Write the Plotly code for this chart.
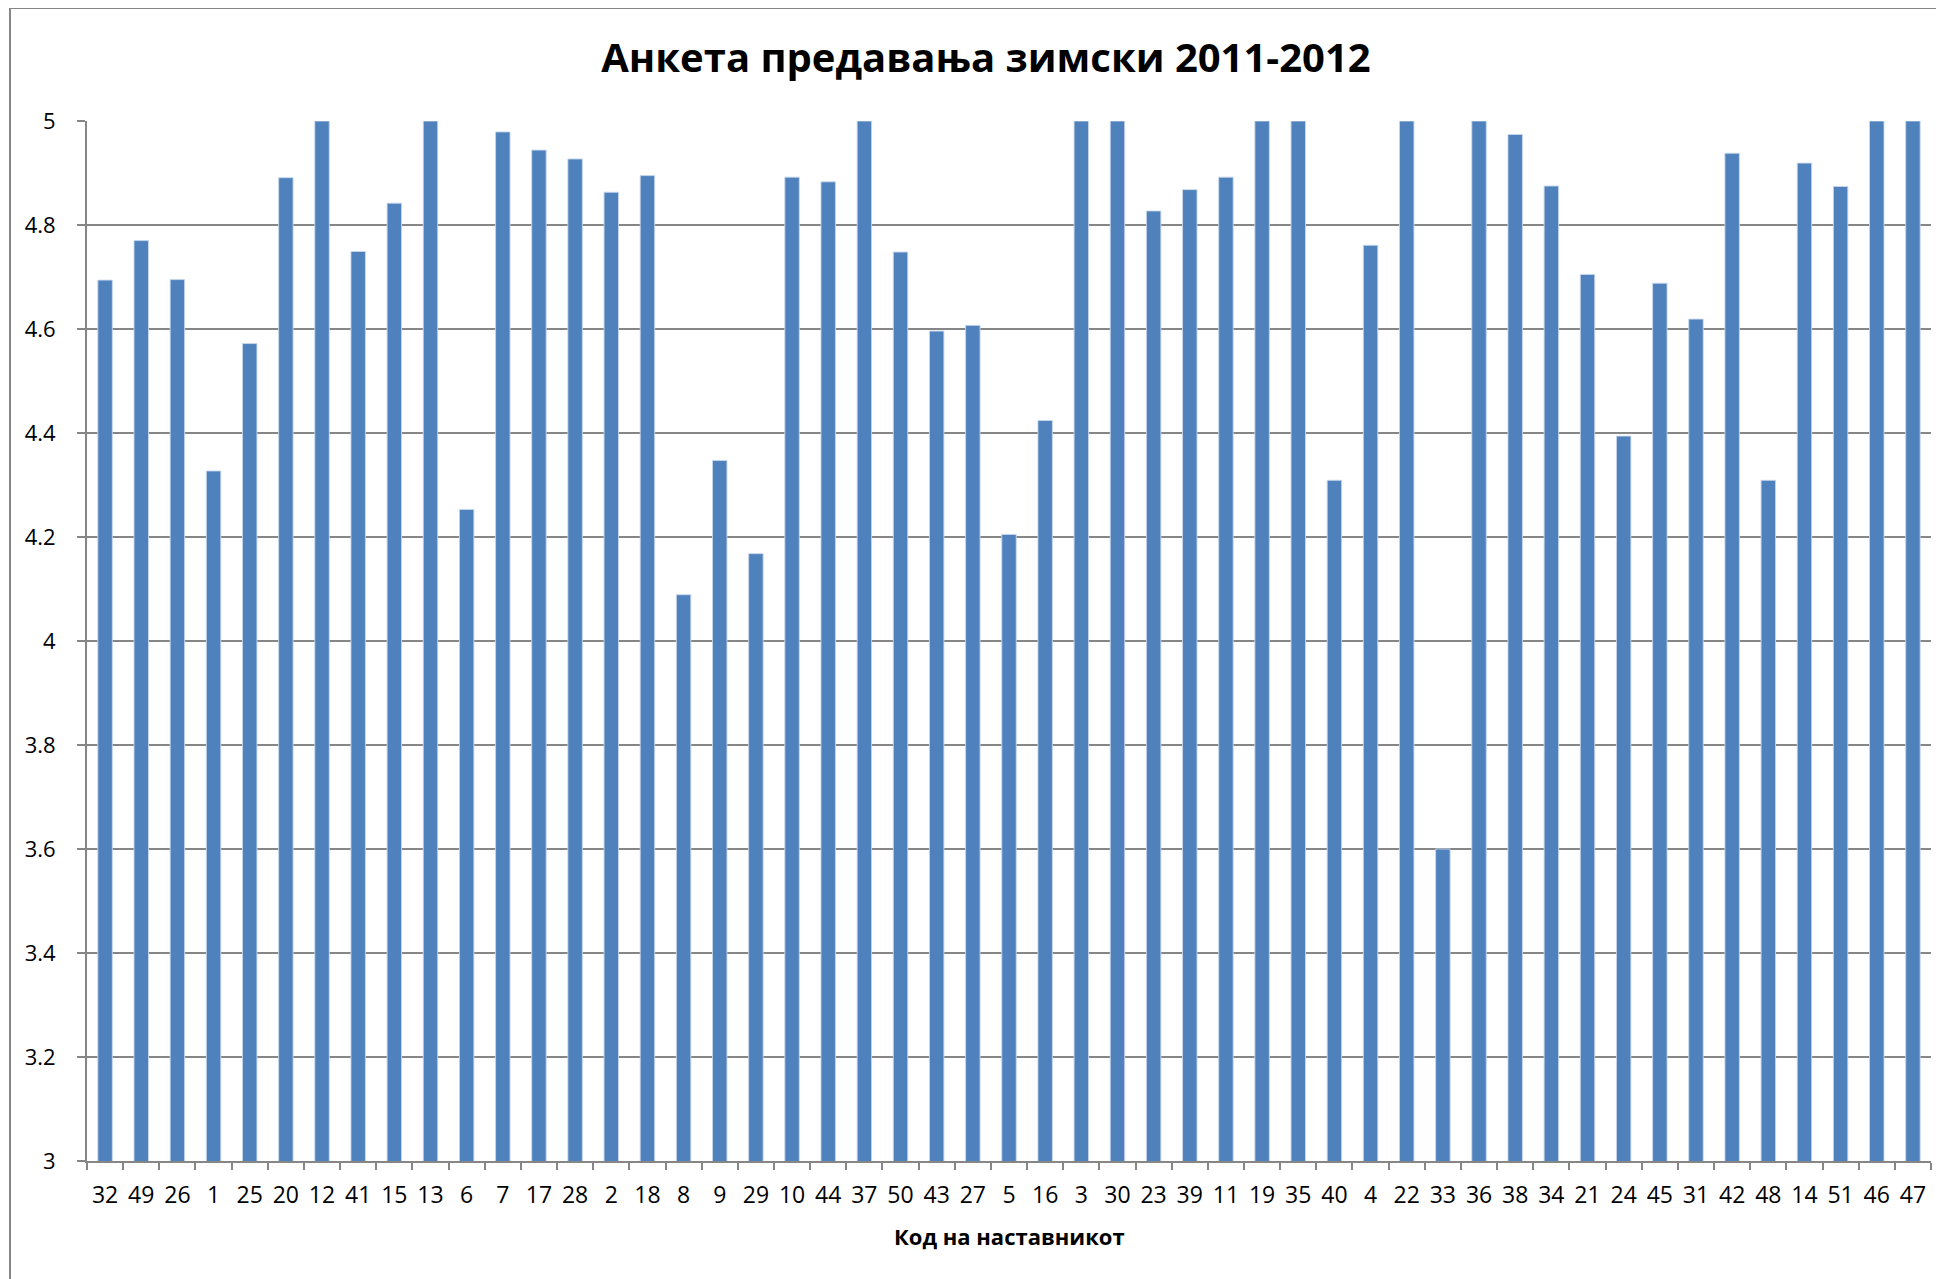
import plotly.graph_objects as go

teacher_codes = ["32", "49", "26", "1", "25", "20", "12", "41", "15", "13",
                 "6", "7", "17", "28", "2", "18", "8", "9", "29", "10",
                 "44", "37", "50", "43", "27", "5", "16", "3", "30", "23",
                 "39", "11", "19", "35", "40", "4", "22", "33", "36", "38",
                 "34", "21", "24", "45", "31", "42", "48", "14", "51", "46", "47"]

scores = [4.694, 4.770, 4.695, 4.327, 4.572, 4.891, 5.0, 4.749, 4.842, 5.0,
          4.253, 4.979, 4.944, 4.927, 4.863, 4.895, 4.089, 4.347, 4.168, 4.892,
          4.883, 5.0, 4.748, 4.596, 4.607, 4.205, 4.424, 5.0, 5.0, 4.827,
          4.868, 4.892, 5.0, 5.0, 4.309, 4.761, 5.0, 3.600, 5.0, 4.974,
          4.875, 4.705, 4.394, 4.688, 4.619, 4.938, 4.309, 4.919, 4.874, 5.0, 5.0]

y_ticks = [3, 3.2, 3.4, 3.6, 3.8, 4, 4.2, 4.4, 4.6, 4.8, 5]
y_tick_labels = ["3", "3.2", "3.4", "3.6", "3.8", "4", "4.2", "4.4", "4.6", "4.8", "5"]

title_text = "Анкета предавања зимски 2011-2012"
x_title_text = "Код на наставникот"

GRID = "#868686"
FONT = "Open Sans"

fig = go.Figure(
    go.Bar(
        x=teacher_codes,
        y=scores,
        marker=dict(color="#4F81BD", line=dict(color="rgba(200,215,235,0.9)", width=1)),
        hoverinfo="x+y",
    )
)

# page is offset by the default 8px body margin
W, H = 1936, 1271
ml, mr, mt, mb = 79, 13, 113, 118
pw = W - ml - mr
ph = H - mt - mb

fig.update_layout(
    width=W,
    height=H,
    margin=dict(l=ml, r=mr, t=mt, b=mb, pad=0),
    paper_bgcolor="white",
    plot_bgcolor="white",
    bargap=0.6,
    showlegend=False,
    font=dict(family=FONT, color="#000000"),
    title=dict(
        text="<b>" + title_text + "</b>",
        font=dict(family=FONT, size=40, color="#000000"),
        x=978 / W,
        xanchor="center",
        xref="container",
        y=1 - 50 / H,
        yanchor="middle",
        yref="container",
    ),
    xaxis=dict(
        type="category",
        showgrid=False,
        showline=True,
        linecolor=GRID,
        linewidth=2,
        ticks="outside",
        tickson="boundaries",
        ticklen=7,
        tickcolor=GRID,
        tickwidth=2,
        tickangle=0,
        tickfont=dict(family=FONT, size=23, color="#000000"),
        ticklabelstandoff=12,
        automargin=False,
        fixedrange=True,
    ),
    yaxis=dict(
        range=[3, 5],
        tickvals=y_ticks,
        ticktext=y_tick_labels,
        showgrid=True,
        gridcolor=GRID,
        gridwidth=1.5,
        showline=True,
        linecolor=GRID,
        linewidth=2,
        ticks="outside",
        ticklen=8,
        tickcolor=GRID,
        tickwidth=2,
        tickfont=dict(family=FONT, size=22, color="#000000"),
        ticklabelstandoff=17,
        zeroline=False,
        automargin=False,
        fixedrange=True,
    ),
    annotations=[
        dict(
            text="<b>" + x_title_text + "</b>",
            xref="paper",
            yref="paper",
            x=0.5,
            y=-(1228 - (H - mb)) / ph,
            xanchor="center",
            yanchor="middle",
            showarrow=False,
            font=dict(family=FONT, size=22, color="#000000"),
        )
    ],
    shapes=[
        dict(
            type="rect",
            xref="paper",
            yref="paper",
            x0=(2 - ml) / pw,
            x1=(W + 20 - ml) / pw,
            y0=-(mb + 30) / ph,
            y1=((H - mb) - 0) / ph,
            line=dict(color=GRID, width=2),
            fillcolor="rgba(0,0,0,0)",
            layer="below",
        )
    ],
)

fig.write_html("out.html")
